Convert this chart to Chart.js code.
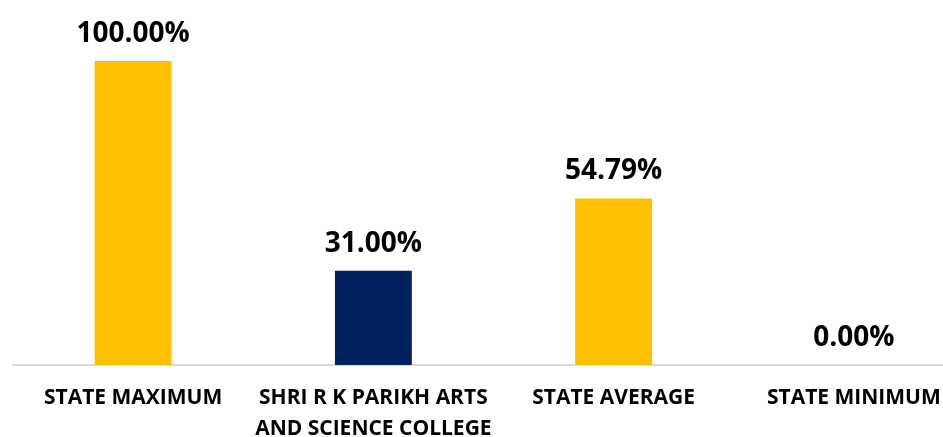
<!DOCTYPE html>
<html>
<head>
<meta charset="utf-8">
<script src="https://cdn.jsdelivr.net/npm/chart.js@4"></script>
<style>
  html, body { margin: 0; padding: 0; background: #fff; overflow: hidden; }
  #wrap { width: 974px; height: 437px; }
</style>
</head>
<body>
<div id="wrap"><canvas id="chart"></canvas></div>
<script>
const categories = [
  "STATE MAXIMUM",
  ["SHRI R K PARIKH ARTS", "AND SCIENCE COLLEGE"],
  "STATE AVERAGE",
  "STATE MINIMUM",
];
const values = [100.0, 31.0, 54.79, 0.0];
const barColors = ["#FFC000", "#002060", "#FFC000", "#FFC000"];

// draws the percentage above each bar
const valueLabels = {
  id: "valueLabels",
  afterDatasetsDraw(chart) {
    const ctx = chart.ctx;
    const meta = chart.getDatasetMeta(0);
    ctx.save();
    ctx.font = "bold 28px 'Open Sans'";
    ctx.fillStyle = "#000";
    ctx.textAlign = "center";
    ctx.textBaseline = "alphabetic";
    meta.data.forEach((bar, i) => {
      ctx.fillText(values[i].toFixed(2) + "%", bar.x, bar.y - 19);
    });
    ctx.restore();
  },
};

new Chart(document.getElementById("chart").getContext("2d"), {
  type: "bar",
  data: {
    labels: categories,
    datasets: [
      {
        data: values,
        backgroundColor: barColors,
        barPercentage: 0.64,
        categoryPercentage: 0.5,
      },
    ],
  },
  options: {
    responsive: true,
    maintainAspectRatio: false,
    animation: false,
    layout: { padding: { top: 61, left: 13, right: 0, bottom: 0 } },
    plugins: { legend: { display: false }, tooltip: { enabled: false } },
    scales: {
      x: {
        grid: { display: false, drawTicks: false },
        border: { display: true, color: "#d9d9d9", width: 2 },
        ticks: {
          color: "#000",
          maxRotation: 0,
          autoSkip: false,
          padding: 17,
          font: { family: "'Open Sans'", size: 21, weight: "bold", lineHeight: 1.5 },
        },
        afterFit(scale) {
          scale.height = 72;
        },
      },
      y: {
        display: false,
        min: 0,
        max: 100,
      },
    },
  },
  plugins: [valueLabels],
});
</script>
</body>
</html>
